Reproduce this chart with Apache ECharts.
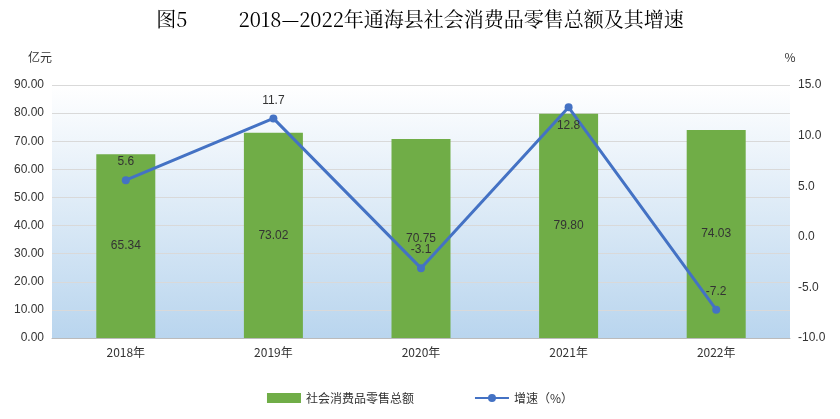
<!DOCTYPE html>
<html><head><meta charset="utf-8">
<script src="https://cdn.jsdelivr.net/npm/echarts@6/dist/echarts.min.js"></script>
<style>html,body{margin:0;padding:0;background:#fff}#c{width:840px;height:419px}</style>
</head><body><div id="c"></div>
<script>
var years = ['2018年','2019年','2020年','2021年','2022年'];
var sales = [65.34, 73.02, 70.75, 79.80, 74.03];
var growth = [5.6, 11.7, -3.1, 12.8, -7.2];
var growthPos = ['top','top','top','bottom','top'];

var chart = echarts.init(document.getElementById('c'));
var font = 'Microsoft YaHei, Noto Sans CJK SC, sans-serif';
chart.setOption({
  animation: false,
  title: {
    text: '图5          2018—2022年通海县社会消费品零售总额及其增速',
    left: 'center', top: 4,
    textStyle: {fontFamily: 'Noto Serif CJK SC, serif', fontWeight: 'normal', fontSize: 20, color: '#000'}
  },
  grid: {left: 52, right: 50, top: 85, bottom: 81,
    show: true, borderWidth: 0,
    backgroundColor: new echarts.graphic.LinearGradient(0,0,0,1,[{offset:0,color:'#ffffff'},{offset:1,color:'#b9d5ee'}])
  },
  legend: {
    bottom: 10, itemGap: 60, itemWidth: 34, itemHeight: 10,
    textStyle: {fontFamily: font, fontSize: 12, color: '#333'},
    data: [{name:'社会消费品零售总额', icon:'rect'}, {name:'增速（%）'}]
  },
  xAxis: {
    type: 'category', data: years,
    axisLine: {lineStyle: {color: '#bbb'}}, axisTick: {show: false},
    axisLabel: {color: '#333', fontFamily: font, fontSize: 12}
  },
  yAxis: [{
    type: 'value', min: 0, max: 90, interval: 10, name: '亿元',
    nameGap: 22, nameTextStyle: {align: 'right', color: '#333', fontFamily: font, padding:[0,0,0,0]},
    axisLabel: {formatter: function(v){return v.toFixed(2);}, color: '#333', fontSize: 12},
    splitLine: {lineStyle: {color: '#d9d9d9'}}
  }, {
    type: 'value', min: -10, max: 15, interval: 5, name: '%',
    nameGap: 22, nameTextStyle: {color: '#333', fontFamily: font},
    axisLabel: {formatter: function(v){return v.toFixed(1);}, color: '#333', fontSize: 12},
    splitLine: {show: false}
  }],
  series: [{
    name: '社会消费品零售总额', type: 'bar', data: sales, barWidth: 59,
    itemStyle: {color: '#70ad47'},
    label: {show: true, position: 'inside', color: '#333', fontSize: 12,
      formatter: function(p){return p.value.toFixed(2);}}
  }, {
    name: '增速（%）', type: 'line', yAxisIndex: 1,
    data: growth.map(function(v,i){return {value:v, label:{position:growthPos[i]}};}),
    symbol: 'circle', symbolSize: 8,
    lineStyle: {color: '#4472c4', width: 3}, itemStyle: {color: '#4472c4'},
    label: {show: true, color: '#333', fontSize: 12, distance: 8}
  }]
});
</script></body></html>
